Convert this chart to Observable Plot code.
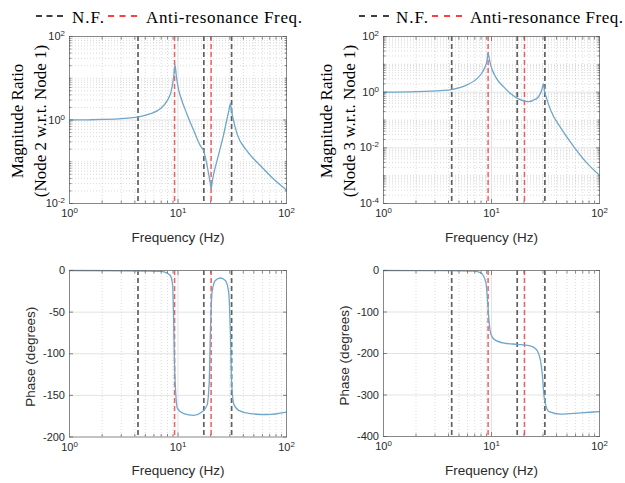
<!DOCTYPE html>
<html><head><meta charset="utf-8">
<script src="https://cdn.jsdelivr.net/npm/d3@7"></script>
<script src="https://cdn.jsdelivr.net/npm/@observablehq/plot@0.6"></script>
<style>
html,body{margin:0;padding:0;background:#fff;}
#fig{position:relative;width:625px;height:483px;overflow:hidden;background:#fff;}
#fig .panel{position:absolute;}
</style></head><body><div id="fig">
<svg id="legend" width="625" height="30" style="position:absolute;left:0;top:0">
  <g font-family="'Liberation Serif','Times New Roman',serif" font-size="17" fill="#000">
    <line x1="36" x2="63" y1="16" y2="16" stroke="#000" stroke-width="1.5" stroke-dasharray="6,4.5"/>
    <text x="72" y="23" textLength="32" lengthAdjust="spacing">N.F.</text>
    <line x1="108" x2="137" y1="16" y2="16" stroke="#f00" stroke-width="1.5" stroke-dasharray="6,5.5"/>
    <text x="146" y="23" textLength="156" lengthAdjust="spacing">Anti-resonance Freq.</text>
    <line x1="359" x2="389" y1="16" y2="16" stroke="#000" stroke-width="1.5" stroke-dasharray="6,6"/>
    <text x="396" y="23" textLength="32" lengthAdjust="spacing">N.F.</text>
    <line x1="432" x2="462" y1="16" y2="16" stroke="#f00" stroke-width="1.5" stroke-dasharray="6,6"/>
    <text x="470" y="23" textLength="153" lengthAdjust="spacing">Anti-resonance Freq.</text>
  </g>
</svg>
</div>
<script>
// ---- data ----
const natFreqs = [4.28, 17.3, 31.2];
const antiFreqs = [9.3, 20.2];

const freqMag2 = [1, 1.5, 2, 3, 4.28, 5.5, 6.87, 8.0, 8.6, 9.15, 9.39, 9.66, 10.1, 10.5, 12.1, 14.0, 16.1, 17.26, 17.9, 19.2, 19.7, 20.2, 20.7, 21.3, 23.7, 26.4, 28.7, 29.6, 30.4, 31.2, 32.0, 35.1, 43.4, 57.6, 76.4, 100];
const mag2 = [1.0, 1.01, 1.03, 1.08, 1.19, 1.4, 1.85, 3.0, 4.6, 11.5, 21, 11, 5.5, 3.8, 1.38, 0.55, 0.24, 0.18, 0.126, 0.05, 0.034, 0.023, 0.034, 0.05, 0.15, 0.46, 1.26, 1.8, 2.48, 1.6, 1.15, 0.46, 0.18, 0.08, 0.038, 0.021];

const freqMag3 = [1, 2, 3.39, 4.28, 6.0, 7.42, 8.55, 9.1, 9.3, 9.6, 9.86, 10.97, 13.1, 15.1, 17.4, 20.8, 22.3, 24.8, 26.6, 28.2, 29.2, 30.3, 30.9, 31.8, 35.4, 43.8, 58.2, 77.4, 100];
const mag3 = [1.0, 1.04, 1.14, 1.24, 1.86, 3.2, 6.8, 14, 24.6, 14, 8.9, 3.4, 1.48, 0.87, 0.6, 0.47, 0.46, 0.53, 0.62, 0.87, 1.2, 2.0, 1.14, 0.75, 0.22, 0.052, 0.0107, 0.0027, 0.00103];

const freqPh2 = [1, 3, 5, 6.87, 7.6, 8.5, 8.93, 9.1, 9.3, 9.6, 9.9, 11.3, 13.95, 16.6, 18.5, 19.4, 19.9, 20.6, 22.1, 24.6, 27.3, 29.3, 30.4, 31.2, 32.6, 36.2, 46.5, 66.3, 100];
const ph2 = [0, -0.3, -0.6, -1, -2, -6, -18, -54, -114, -154, -166, -172, -174, -170, -162, -134, -74, -26, -12, -9, -12, -26, -74, -134, -160, -168, -172, -173, -170];

const freqPh3 = [1, 3, 5, 6.9, 7.96, 8.86, 9.17, 9.5, 9.86, 10.6, 13.1, 17.4, 22.3, 25.8, 28.2, 29.6, 30.6, 31.8, 34.1, 43.8, 67, 100];
const ph3 = [0, -0.3, -0.8, -1.7, -5.6, -28, -68, -124, -153, -166, -175, -178, -181, -189, -213, -253, -301, -325, -340, -346, -343, -340];

// ---- ticks ----
const xTicks = [1, 10, 100];
const xMinor = [2, 3, 4, 5, 6, 7, 8, 9, 20, 30, 40, 50, 60, 70, 80, 90];
const xMajorGrid = [10];
const magTicks2 = [0.01, 1, 100];
const magTicks3 = [0.0001, 0.01, 1, 100];
const phTicks2 = [-200, -150, -100, -50, 0];
const phTicks3 = [-400, -300, -200, -100, 0];
const mults = [1, 2, 3, 4, 5, 6, 7, 8, 9];

const curveColor = "#6ea7ca";
const serif = "'Liberation Serif','Times New Roman',serif";
const sans = "'Liberation Sans',Arial,Helvetica,sans-serif";

function logMinor(decades, labeled) {
  return decades.flatMap(k => mults.map(j => +(j * 10 ** k).toPrecision(6))).filter(v => !labeled.includes(v));
}
const fmtPow = d => "10^" + Math.round(Math.log10(d));
const fmtLin = d => String(d);

function panel(cfg) {
  const rows = cfg.fx.map((f, i) => ({f, v: cfg.vy[i]}));
  const isLog = cfg.yType === "log";
  const tk = {stroke: "#555", strokeWidth: 0.7, tickFormat: () => "", label: null};
  const marks = [
    Plot.ruleX(xMinor, {stroke: "#c2c2c2", strokeWidth: 0.6, strokeDasharray: "1,2"}),
    cfg.yMinor.length ? Plot.ruleY(cfg.yMinor, {stroke: "#c2c2c2", strokeWidth: 0.6, strokeDasharray: "1,2"}) : null,
    Plot.ruleX(xMajorGrid, {stroke: "#e0e0e0", strokeWidth: 0.9}),
    Plot.ruleY(cfg.yMajor, {stroke: "#e0e0e0", strokeWidth: 0.9}),
    Plot.ruleX(natFreqs, {stroke: "#3a3a3a", strokeOpacity: 0.8, strokeWidth: 1.7, strokeDasharray: "5,3"}),
    Plot.ruleX(antiFreqs, {stroke: "#e8393c", strokeOpacity: 0.8, strokeWidth: 1.5, strokeDasharray: "5,3"}),
    Plot.line(rows, {x: "f", y: "v", stroke: curveColor, strokeWidth: 1.3, curve: "monotone-x"}),
    Plot.frame({stroke: "#6a6a6a", strokeWidth: 0.8}),
    Plot.axisX(xMinor, {...tk, anchor: "bottom", tickSize: -2.5}),
    Plot.axisX(xMinor, {...tk, anchor: "top", tickSize: -2.5}),
    Plot.axisX(xMajorGrid, {...tk, anchor: "bottom", tickSize: -4}),
    Plot.axisX(xMajorGrid, {...tk, anchor: "top", tickSize: -4}),
    Plot.axisX(xTicks, {anchor: "bottom", tickSize: 0, tickPadding: 6, tickFormat: fmtPow, label: null}),
    isLog ? Plot.axisY(cfg.yMinor, {...tk, anchor: "left", tickSize: -2.5}) : null,
    isLog ? Plot.axisY(cfg.yMinor, {...tk, anchor: "right", tickSize: -2.5}) : null,
    Plot.axisY(cfg.yTicks, {...tk, anchor: "left", tickSize: -4}),
    Plot.axisY(cfg.yTicks, {...tk, anchor: "right", tickSize: -4}),
    Plot.axisY(cfg.yTicks, {anchor: "left", tickSize: 0, tickPadding: 4.5, tickFormat: isLog ? fmtPow : fmtLin, label: null}),
    Plot.text(["Frequency (Hz)"], {text: d => d, frameAnchor: "bottom", textAnchor: "middle", lineAnchor: "middle", dy: 34, fontSize: 13.5, fill: "#2a2a2a"}),
    Plot.text([cfg.yLabel], {text: d => d, frameAnchor: "left", textAnchor: "middle", lineAnchor: "middle", dx: cfg.yLabelDx, dy: cfg.yLabelDy, rotate: -90,
      fontFamily: cfg.yLabelFont, fontSize: cfg.yLabelSize, lineHeight: 1.32, fill: cfg.yLabelFill})
  ];
  const plot = Plot.plot({
    width: cfg.width, height: cfg.height,
    marginLeft: cfg.ml, marginRight: cfg.mr, marginTop: cfg.mt, marginBottom: cfg.mb,
    style: {fontFamily: sans, fontSize: "11px", color: "#2a2a2a", background: "transparent", overflow: "visible"},
    x: {type: "log", domain: [1, 100], axis: null, label: null},
    y: {type: cfg.yType, domain: cfg.yDomain, axis: null, label: null},
    marks
  });
  d3.select(plot).selectAll("text").each(function() {
    const t = this.textContent;
    if (t.startsWith("10^")) {
      const exp = t.slice(3);
      const sel = d3.select(this);
      sel.text("10");
      sel.append("tspan").attr("dy", "-0.5em").attr("font-size", "0.72em").text(exp);
    }
  });
  const div = document.createElement("div");
  div.className = "panel";
  div.style.left = cfg.left + "px";
  div.style.top = cfg.top + "px";
  div.appendChild(plot);
  document.getElementById("fig").appendChild(div);
}

panel({left: 0, top: 30, width: 300, height: 228, ml: 69, mr: 14, mt: 6, mb: 55,
  yType: "log", yDomain: [0.01, 100], fx: freqMag2, vy: mag2,
  yTicks: magTicks2, yMajor: [1], yMinor: logMinor([-2, -1, 0, 1], magTicks2),
  yLabel: "Magnitude Ratio\n(Node 2 w.r.t. Node 1)", yLabelFont: serif, yLabelSize: 17, yLabelFill: "#000", yLabelDx: -42, yLabelDy: 1});

panel({left: 310, top: 30, width: 315, height: 228, ml: 73, mr: 26, mt: 6, mb: 55,
  yType: "log", yDomain: [0.0001, 100], fx: freqMag3, vy: mag3,
  yTicks: magTicks3, yMajor: [0.01, 1], yMinor: logMinor([-4, -3, -2, -1, 0, 1], magTicks3),
  yLabel: "Magnitude Ratio\n(Node 3 w.r.t. Node 1)", yLabelFont: serif, yLabelSize: 17, yLabelFill: "#000", yLabelDx: -47, yLabelDy: 1});

panel({left: 0, top: 255, width: 300, height: 228, ml: 69, mr: 14, mt: 15, mb: 46.5,
  yType: "linear", yDomain: [-200, 0], fx: freqPh2, vy: ph2,
  yTicks: phTicks2, yMajor: [-150, -100, -50], yMinor: [],
  yLabel: "Phase (degrees)", yLabelFont: sans, yLabelSize: 13.5, yLabelFill: "#2a2a2a", yLabelDx: -40, yLabelDy: 3});

panel({left: 310, top: 255, width: 315, height: 228, ml: 73, mr: 26, mt: 15, mb: 47,
  yType: "linear", yDomain: [-400, 0], fx: freqPh3, vy: ph3,
  yTicks: phTicks3, yMajor: [-300, -200, -100], yMinor: [],
  yLabel: "Phase (degrees)", yLabelFont: sans, yLabelSize: 13.5, yLabelFill: "#2a2a2a", yLabelDx: -40, yLabelDy: 2});
</script>
</body></html>
